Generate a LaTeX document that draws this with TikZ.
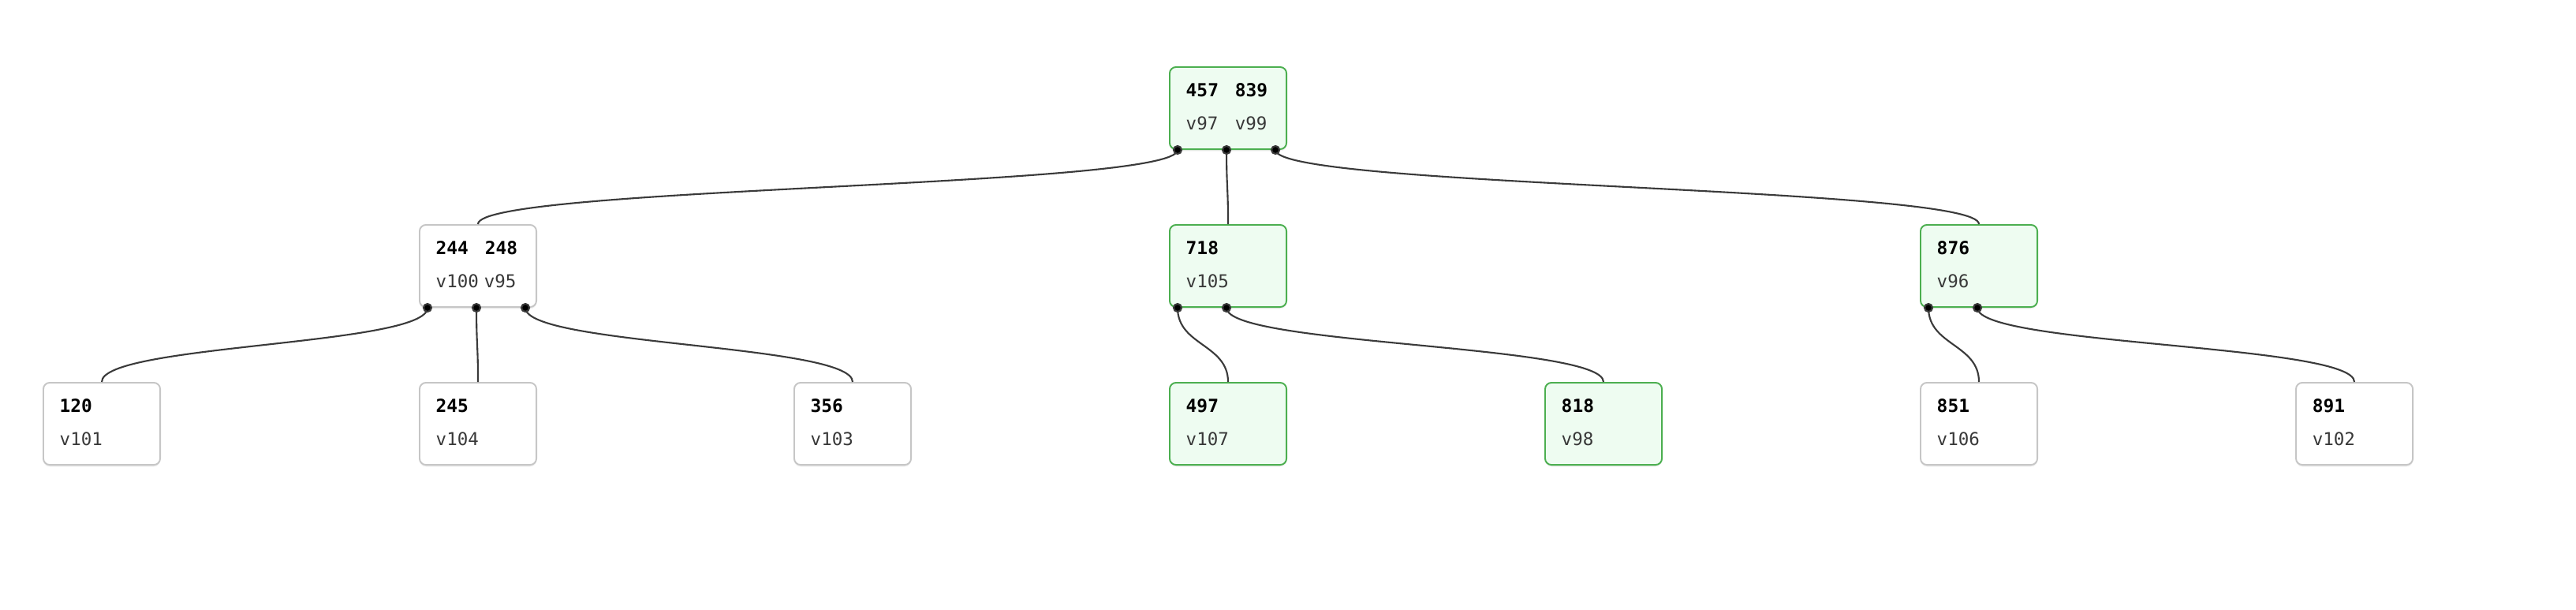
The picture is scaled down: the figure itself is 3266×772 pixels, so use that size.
\documentclass[tikz,border=0pt]{standalone}
\usepackage{fontspec}
\newfontfamily\monofont{DejaVu Sans Mono}
\usetikzlibrary{shadows}

\definecolor{hotline}{HTML}{4CAF50}
\definecolor{hotfill}{HTML}{EEFCF1}
\definecolor{coldline}{HTML}{C6C6C6}
\definecolor{wire}{HTML}{3A3A3A}

\tikzset{
	keybox/.style = {draw = coldline, fill = white, line width = 0.55pt, rounded corners = 0.08cm,
		minimum width = 1.48cm, minimum height = 1.04cm, anchor = north west, inner sep = 0pt,
		drop shadow = {shadow xshift = 0pt, shadow yshift = -0.025cm, opacity = 0.12}},
	hotbox/.style = {keybox, draw = hotline, fill = hotfill},
	keytxt/.style = {anchor = base west, inner sep = 0pt, font = \monofont\bfseries\fontsize{6.5pt}{7.5pt}\selectfont},
	valtxt/.style = {anchor = base west, inner sep = 0pt, text = black!78, font = \monofont\fontsize{6.4pt}{7.5pt}\selectfont},
	wire/.style = {draw = wire, line width = 0.6pt},
}

\begin{document}
\begin{tikzpicture}[x = 0.01cm, y = -0.01cm]

\useasboundingbox (0,0) rectangle (3266,772);

% root
\node[hotbox] (root) at (1482,84) {};
\node[keytxt] (rootk1) at ([xshift = 0.21cm, yshift = -0.38cm]root.north west) {457};
\node[keytxt] (rootk2) at ([xshift = 0.83cm, yshift = -0.38cm]root.north west) {839};
\node[valtxt] (rootv1) at ([xshift = 0.21cm, yshift = -0.80cm]root.north west) {v97};
\node[valtxt] (rootv2) at ([xshift = 0.83cm, yshift = -0.80cm]root.north west) {v99};

% inner level
\node[keybox] (a) at (531,284) {};
\node[keytxt] (ak1) at ([xshift = 0.21cm, yshift = -0.38cm]a.north west) {244};
\node[keytxt] (ak2) at ([xshift = 0.83cm, yshift = -0.38cm]a.north west) {248};
\node[valtxt] (av1) at ([xshift = 0.21cm, yshift = -0.80cm]a.north west) {v100};
\node[valtxt] (av2) at ([xshift = 0.82cm, yshift = -0.80cm]a.north west) {v95};

\node[hotbox] (b) at (1482,284) {};
\node[keytxt] (bk1) at ([xshift = 0.21cm, yshift = -0.38cm]b.north west) {718};
\node[valtxt] (bv1) at ([xshift = 0.21cm, yshift = -0.80cm]b.north west) {v105};

\node[hotbox] (c) at (2434,284) {};
\node[keytxt] (ck1) at ([xshift = 0.21cm, yshift = -0.38cm]c.north west) {876};
\node[valtxt] (cv1) at ([xshift = 0.21cm, yshift = -0.80cm]c.north west) {v96};

% leaves
\foreach \i/\x/\k/\v/\s in {1/54/120/v101/keybox, 2/531/245/v104/keybox, 3/1006/356/v103/keybox,
		4/1482/497/v107/hotbox, 5/1958/818/v98/hotbox, 6/2434/851/v106/keybox, 7/2910/891/v102/keybox} {
	\node[\s] (leaf\i) at (\x,484) {};
	\node[keytxt] (leaf\i k) at ([xshift = 0.21cm, yshift = -0.38cm]leaf\i.north west) {\k};
	\node[valtxt] (leaf\i v) at ([xshift = 0.21cm, yshift = -0.80cm]leaf\i.north west) {\v};
}

% child pointers
\foreach \p/\n in {root/3, a/3, b/2, c/2} {
	\foreach \j in {1,...,\n} {
		\coordinate (\p p\j) at ([xshift = {0.11cm + (\j - 1) * 0.62cm}]\p.south west);
	}
}

\foreach \from/\to in {rootp1/a, rootp2/b, rootp3/c, ap1/leaf1, ap2/leaf2, ap3/leaf3,
		bp1/leaf4, bp2/leaf5, cp1/leaf6, cp2/leaf7} {
	\draw[wire] (\from) .. controls +(0,48) and +(0,-48) .. (\to.north);
	\fill[wire] (\from) circle (0.05cm);
}

\end{tikzpicture}
\end{document}
